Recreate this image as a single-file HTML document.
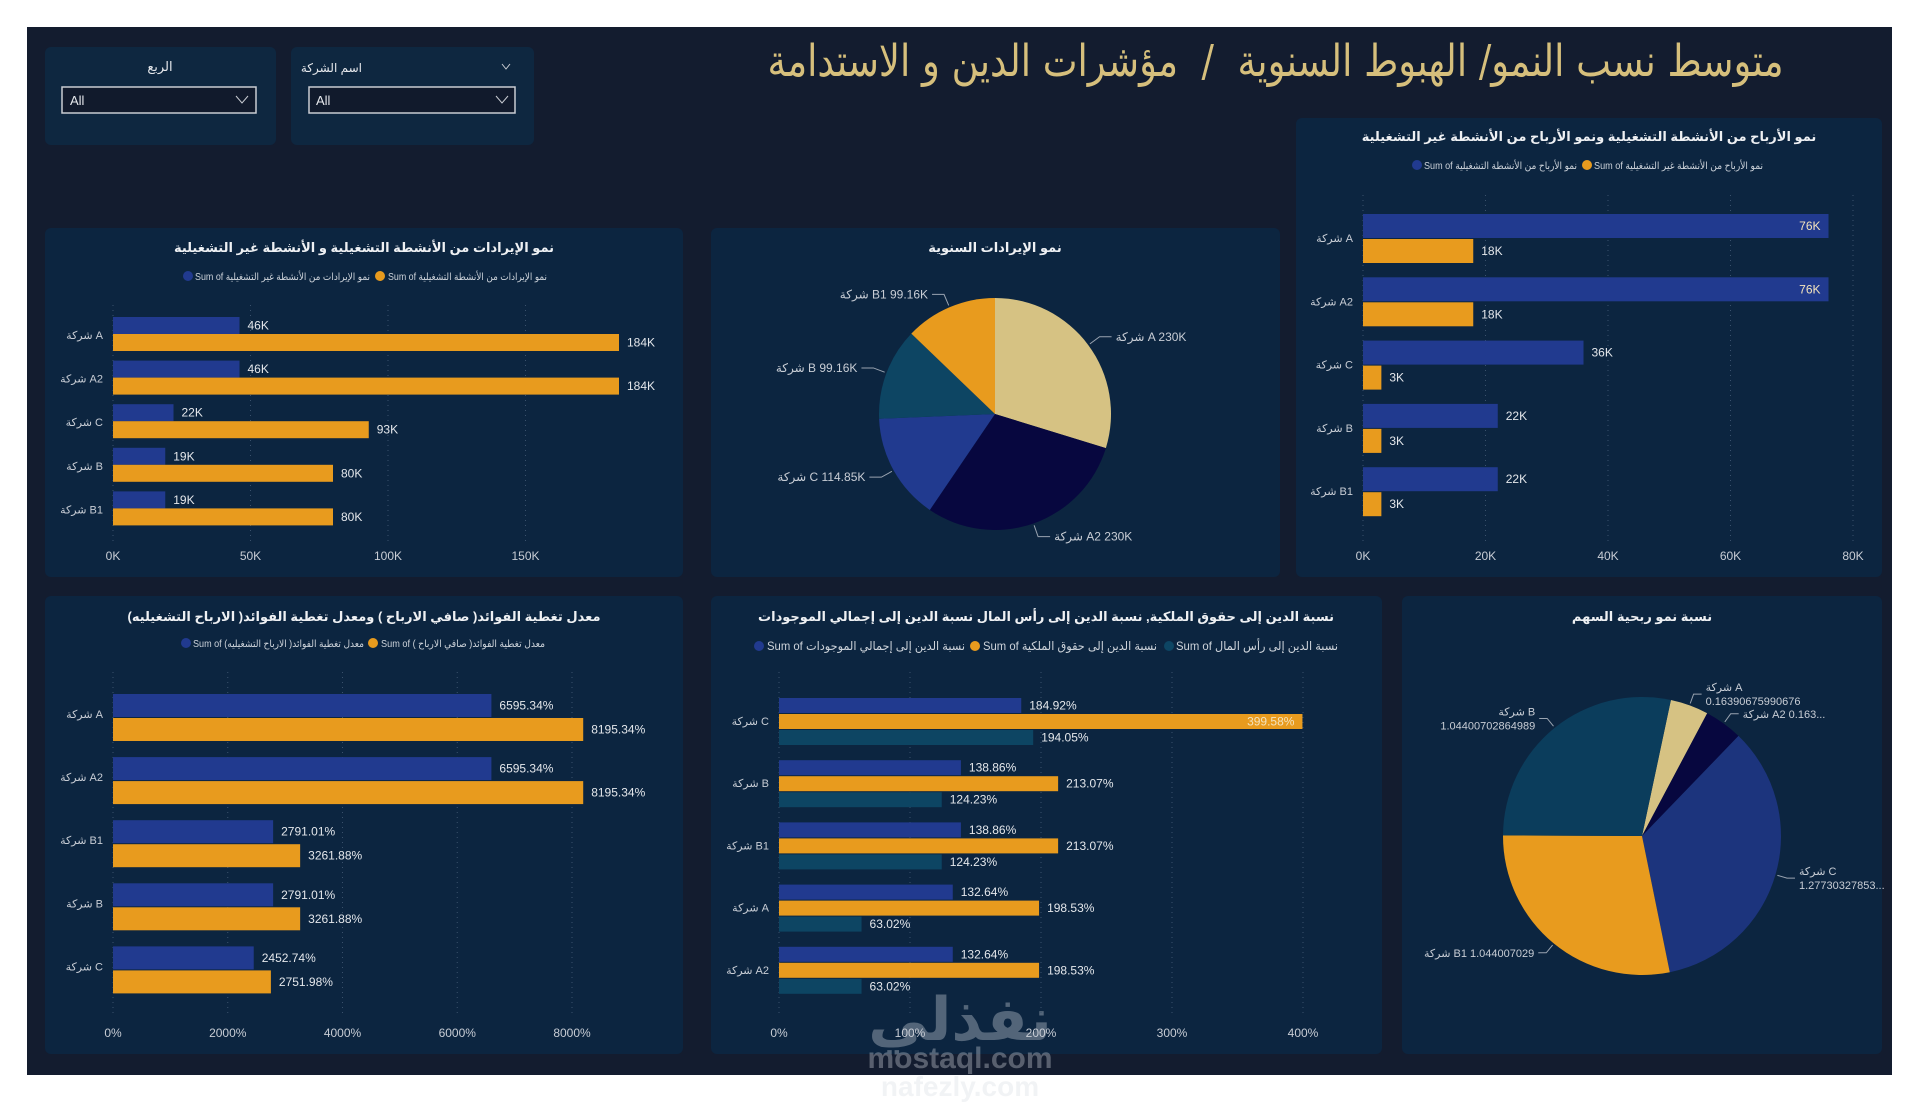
<!DOCTYPE html>
<html><head><meta charset="utf-8"><style>
html,body{margin:0;padding:0;background:#fff;width:1920px;height:1105px;overflow:hidden;font-family:"Liberation Sans","DejaVu Sans",sans-serif}
#title{position:absolute;right:136px;top:36px;font-size:44px;color:#d6bf7c;direction:rtl;white-space:pre;font-family:"DejaVu Sans","Liberation Sans",sans-serif;transform:scaleX(0.84);transform-origin:right center}
</style></head><body>
<svg id="s" width="1920" height="1105" xmlns="http://www.w3.org/2000/svg" style="position:absolute;left:0;top:0;font-family:'Liberation Sans','DejaVu Sans',sans-serif">
<rect x="27" y="27" width="1865" height="1048" fill="#131c2f"/>
<g>
<rect x="45" y="47" width="231" height="98" rx="6" fill="#0e2740"/>
<text x="160" y="71" fill="#e6e8ec" font-size="13" text-anchor="middle">الربع</text>
<rect x="62" y="87" width="194" height="26" fill="#111a2c" stroke="#c9ccd2" stroke-width="1.5"/>
<text x="70" y="105" fill="#e6e8ec" font-size="13">All</text>
<path d="M236 96 l6 7 l6 -7" stroke="#c9ccd2" fill="none"/>
</g>
<g>
<rect x="291" y="47" width="243" height="98" rx="6" fill="#0e2740"/>
<text x="362" y="72" fill="#e6e8ec" font-size="12" text-anchor="end">اسم الشركة</text>
<path d="M502 64 l4 5 l4 -5" stroke="#c9ccd2" fill="none"/>
<rect x="309" y="87" width="206" height="26" fill="#111a2c" stroke="#c9ccd2" stroke-width="1.5"/>
<text x="316" y="105" fill="#e6e8ec" font-size="13">All</text>
<path d="M496 96 l6 7 l6 -7" stroke="#c9ccd2" fill="none"/>
</g>
<rect x="45" y="228" width="638" height="349" rx="6" fill="#0c2540"/>
<rect x="711" y="228" width="569" height="349" rx="6" fill="#0c2540"/>
<rect x="1296" y="118" width="586" height="459" rx="6" fill="#0c2540"/>
<rect x="45" y="596" width="638" height="458" rx="6" fill="#0c2540"/>
<rect x="711" y="596" width="671" height="458" rx="6" fill="#0c2540"/>
<rect x="1402" y="596" width="480" height="458" rx="6" fill="#0c2540"/>

<text x="364" y="252" fill="#eef0f3" font-size="13" font-weight="bold" text-anchor="middle">نمو الإيرادات من الأنشطة التشغيلية و الأنشطة غير التشغيلية</text>
<g font-size="10" fill="#cdd3da">
<circle cx="188" cy="276" r="5" fill="#213a8f"/><text x="195" y="280" textLength="175" lengthAdjust="spacingAndGlyphs">Sum of نمو الإيرادات من الأنشطة غير التشغيلية</text>
<circle cx="380" cy="276" r="5" fill="#e89b1e"/><text x="388" y="280" textLength="159" lengthAdjust="spacingAndGlyphs">Sum of نمو الإيرادات من الأنشطة التشغيلية</text>
</g>
<text x="995" y="252" fill="#eef0f3" font-size="13" font-weight="bold" text-anchor="middle">نمو الإيرادات السنوية</text>
<text x="1589" y="141" fill="#eef0f3" font-size="13" font-weight="bold" text-anchor="middle">نمو الأرباح من الأنشطة التشغيلية ونمو الأرباح من الأنشطة غير التشغيلية</text>
<g font-size="10" fill="#cdd3da">
<circle cx="1417" cy="165" r="5" fill="#213a8f"/><text x="1424" y="169" textLength="153" lengthAdjust="spacingAndGlyphs">Sum of نمو الأرباح من الأنشطة التشغيلية</text>
<circle cx="1587" cy="165" r="5" fill="#e89b1e"/><text x="1594" y="169" textLength="169" lengthAdjust="spacingAndGlyphs">Sum of نمو الأرباح من الأنشطة غير التشغيلية</text>
</g>
<text x="364" y="621" fill="#eef0f3" font-size="13" font-weight="bold" text-anchor="middle">معدل تغطية الفوائد( صافي الارباح ) ومعدل تغطية الفوائد( الارباح التشغيليه)</text>
<g font-size="10" fill="#cdd3da">
<circle cx="186" cy="643" r="5" fill="#213a8f"/><text x="193" y="647" textLength="171" lengthAdjust="spacingAndGlyphs">Sum of معدل تغطية الفوائد( الارباح التشغيليه)</text>
<circle cx="373" cy="643" r="5" fill="#e89b1e"/><text x="381" y="647" textLength="164" lengthAdjust="spacingAndGlyphs">Sum of معدل تغطية الفوائد( صافي الارباح )</text>
</g>
<text x="1046" y="621" fill="#eef0f3" font-size="13" font-weight="bold" text-anchor="middle">نسبة الدين إلى حقوق الملكية, نسبة الدين إلى رأس المال نسبة الدين إلى إجمالي الموجودات</text>
<g font-size="12" fill="#cdd3da">
<circle cx="759" cy="646" r="5" fill="#213a8f"/><text x="767" y="650" textLength="198" lengthAdjust="spacingAndGlyphs">Sum of نسبة الدين إلى إجمالي الموجودات</text>
<circle cx="975" cy="646" r="5" fill="#e89b1e"/><text x="983" y="650" textLength="174" lengthAdjust="spacingAndGlyphs">Sum of نسبة الدين إلى حقوق الملكية</text>
<circle cx="1169" cy="646" r="5" fill="#0d4563"/><text x="1176" y="650" textLength="162" lengthAdjust="spacingAndGlyphs">Sum of نسبة الدين إلى رأس المال</text>
</g>
<text x="1642" y="621" fill="#eef0f3" font-size="13" font-weight="bold" text-anchor="middle">نسبة نمو ربحية السهم</text>
<g opacity="0.35" fill="#d8dde3" font-weight="bold">
<text x="960" y="1040" font-size="60" text-anchor="middle">نفذلي</text>
<text x="960" y="1068" font-size="30" text-anchor="middle">mostaql.com</text>
<text x="960" y="1096" font-size="28" text-anchor="middle">nafezly.com</text>
</g>
</svg>
<div id="title">متوسط نسب النمو/ الهبوط السنوية  /  مؤشرات الدين و الاستدامة</div>
<script>
const NS='http://www.w3.org/2000/svg';
const svg=document.getElementById('s');
const BLUE='#213a8f',ORANGE='#e89b1e',TEAL='#0d4563',NAVY='#07073f',BEIGE='#d6c283';

// Chart 1: revenue growth
const c1Cats=['شركة A','شركة A2','شركة C','شركة B','شركة B1'];
const c1Blue=[46,46,22,19,19];
const c1Orange=[184,184,93,80,80];
const c1Ticks=[0,50,100,150];
const c1TickLabels=['0K','50K','100K','150K'];
// Chart 3: profit growth
const c3Cats=['شركة A','شركة A2','شركة C','شركة B','شركة B1'];
const c3Blue=[76,76,36,22,22];
const c3Orange=[18,18,3,3,3];
const c3Ticks=[0,20,40,60,80];
const c3TickLabels=['0K','20K','40K','60K','80K'];
// Chart 4: interest coverage
const c4Cats=['شركة A','شركة A2','شركة B1','شركة B','شركة C'];
const c4Blue=[6595.34,6595.34,2791.01,2791.01,2452.74];
const c4Orange=[8195.34,8195.34,3261.88,3261.88,2751.98];
const c4Ticks=[0,2000,4000,6000,8000];
const c4TickLabels=['0%','2000%','4000%','6000%','8000%'];
// Chart 5: debt ratios
const c5Cats=['شركة C','شركة B','شركة B1','شركة A','شركة A2'];
const c5Blue=[184.92,138.86,138.86,132.64,132.64];
const c5Orange=[399.58,213.07,213.07,198.53,198.53];
const c5Teal=[194.05,124.23,124.23,63.02,63.02];
const c5Ticks=[0,100,200,300,400];
const c5TickLabels=['0%','100%','200%','300%','400%'];
// Pie 1: annual revenue
const p1Cats=['شركة A','شركة A2','شركة C','شركة B','شركة B1'];
const p1Vals=[230,230,114.85,99.16,99.16];
const p1Labels=['230K','230K','114.85K','99.16K','99.16K'];
// Pie 2: EPS growth
const p2Cats=['شركة A','شركة A2','شركة C','شركة B1','شركة B'];
const p2Vals=[0.16390675990676,0.16390675990676,1.27730327853,1.044007029,1.04400702864989];
const p2Labels=['0.16390675990676','0.163...','1.27730327853...','1.044007029','1.04400702864989'];

function mk(tag,attrs,parent){const e=document.createElementNS(NS,tag);for(const k in attrs)e.setAttribute(k,attrs[k]);(parent||svg).appendChild(e);return e;}

function barChart(cfg){
  const g=mk('g',{});
  
  
  const sx=v=>cfg.x0+v*cfg.unit;
  cfg.ticks.forEach((t,i)=>{
    const gl=mk('line',{x1:sx(t),x2:sx(t),y1:cfg.gTop,y2:cfg.gBot,stroke:'#3a516c','stroke-dasharray':'1 4'},g);
    
    
    const tl=mk('text',{x:sx(t),y:cfg.tickY,fill:'#c8cdd5','font-size':12,'text-anchor':'middle'},g);
    tl.textContent=cfg.tickLabels[i];
    
    
  });
  cfg.cats.forEach((c,i)=>{
    const rt=cfg.top0+i*cfg.step;
    const cl=mk('text',{x:cfg.x0-10,y:rt+cfg.catOff,fill:'#c8cdd5','font-size':11,'text-anchor':'end'},g);
    cl.textContent=c;
    
    
    cfg.series.forEach(s=>{
      const v=s.vals[i],y=rt+s.off;
      const b=mk('rect',{x:cfg.x0,y:y,width:Math.max(0,sx(v)-cfg.x0),height:s.h,fill:s.color},g);
      
      
      const inside=s.inside!==undefined&&v>=s.inside;
      const lb=mk('text',{x:inside?sx(v)-8:sx(v)+8,y:y+s.h/2+4,fill:inside?'#f3e3bd':'#e4e7eb','font-size':12,'text-anchor':inside?'end':'start'},g);
      lb.textContent=s.fmt(v);
      
      
    });
  });
}
const fK=v=>Math.round(v)+'K', fP=v=>v.toFixed(2)+'%';
barChart({name:'revenue-growth-chart',x0:113,unit:137.5/50,cats:c1Cats,ticks:c1Ticks,tickLabels:c1TickLabels,gTop:305,gBot:542,tickY:560,top0:317,step:43.6,catOff:22,
  series:[{vals:c1Blue,off:0,h:17,color:BLUE,fmt:fK},{vals:c1Orange,off:17,h:17,color:ORANGE,fmt:fK}]});
barChart({name:'profit-growth-chart',x0:1363,unit:490/80,cats:c3Cats,ticks:c3Ticks,tickLabels:c3TickLabels,gTop:195,gBot:542,tickY:560,top0:214,step:63.3,catOff:28,
  series:[{vals:c3Blue,off:0,h:24,color:BLUE,fmt:fK,inside:70},{vals:c3Orange,off:25,h:24,color:ORANGE,fmt:fK}]});
barChart({name:'interest-coverage-chart',x0:113,unit:459/8000,cats:c4Cats,ticks:c4Ticks,tickLabels:c4TickLabels,gTop:672,gBot:1015,tickY:1037,top0:694,step:63.1,catOff:24,
  series:[{vals:c4Blue,off:0,h:23,color:BLUE,fmt:fP},{vals:c4Orange,off:24,h:23,color:ORANGE,fmt:fP}]});
barChart({name:'debt-ratios-chart',x0:779,unit:524/400,cats:c5Cats,ticks:c5Ticks,tickLabels:c5TickLabels,gTop:672,gBot:1015,tickY:1037,top0:698,step:62.2,catOff:27,
  series:[{vals:c5Blue,off:0,h:15,color:BLUE,fmt:fP},{vals:c5Orange,off:16,h:15,color:ORANGE,fmt:fP,inside:350},{vals:c5Teal,off:32,h:15,color:TEAL,fmt:fP}]});

function pie(cfg){
  const g=mk('g',{});
  
  
  const tot=cfg.vals.reduce((a,b)=>a+b,0);
  let a=cfg.start;
  const pt=(ang,r)=>[cfg.cx+r*Math.sin(ang*Math.PI/180),cfg.cy-r*Math.cos(ang*Math.PI/180)];
  cfg.vals.forEach((v,i)=>{
    const sw=v/tot*360,a2=a+sw;
    const p1=pt(a,cfg.r),p2=pt(a2,cfg.r);
    const sl=mk('path',{d:`M${cfg.cx} ${cfg.cy} L${p1[0]} ${p1[1]} A${cfg.r} ${cfg.r} 0 ${sw>180?1:0} 1 ${p2[0]} ${p2[1]} Z`,fill:cfg.colors[i]},g);
    
    
    const m=(a+sw/2)%360,right=m<180;
    const q1=pt(m,cfg.r+2),q2=pt(m,cfg.r+cfg.lo);
    const q3=[q2[0]+(right?cfg.hl:-cfg.hl),q2[1]];
    const ln=mk('polyline',{points:`${q1[0]},${q1[1]} ${q2[0]},${q2[1]} ${q3[0]},${q3[1]}`,fill:'none',stroke:'#9aa4b1'},g);
    
    
    const tx=q3[0]+(right?4:-4),anc=right?'start':'end';
    if(cfg.twoLine[i]){
      const t1=mk('text',{x:tx,y:q3[1]-3,fill:'#c8cdd5','font-size':cfg.fs,'text-anchor':anc},g);
      t1.textContent=cfg.cats[i];
      
      
      const t2=mk('text',{x:tx,y:q3[1]+11,fill:'#c8cdd5','font-size':cfg.fs,'text-anchor':anc},g);
      t2.textContent=cfg.labels[i];
      
      
    }else{
      const t=mk('text',{x:tx,y:q3[1]+4,fill:'#c8cdd5','font-size':cfg.fs,'text-anchor':anc},g);
      t.textContent=cfg.cats[i]+' '+cfg.labels[i];
      
      
    }
    a=a2;
  });
}
pie({name:'annual-revenue-pie',cx:995,cy:414,r:116,start:0,lo:14,hl:12,fs:12,vals:p1Vals,cats:p1Cats,labels:p1Labels,colors:[BEIGE,NAVY,BLUE,TEAL,ORANGE],twoLine:[0,0,0,0,0]});
pie({name:'eps-growth-pie',cx:1642,cy:836,r:139,start:12,lo:12,hl:8,fs:11,vals:p2Vals,cats:p2Cats,labels:p2Labels,colors:[BEIGE,NAVY,'#1c347d',ORANGE,'#0b3d5c'],twoLine:[1,0,1,0,1]});
</script>
</body></html>
